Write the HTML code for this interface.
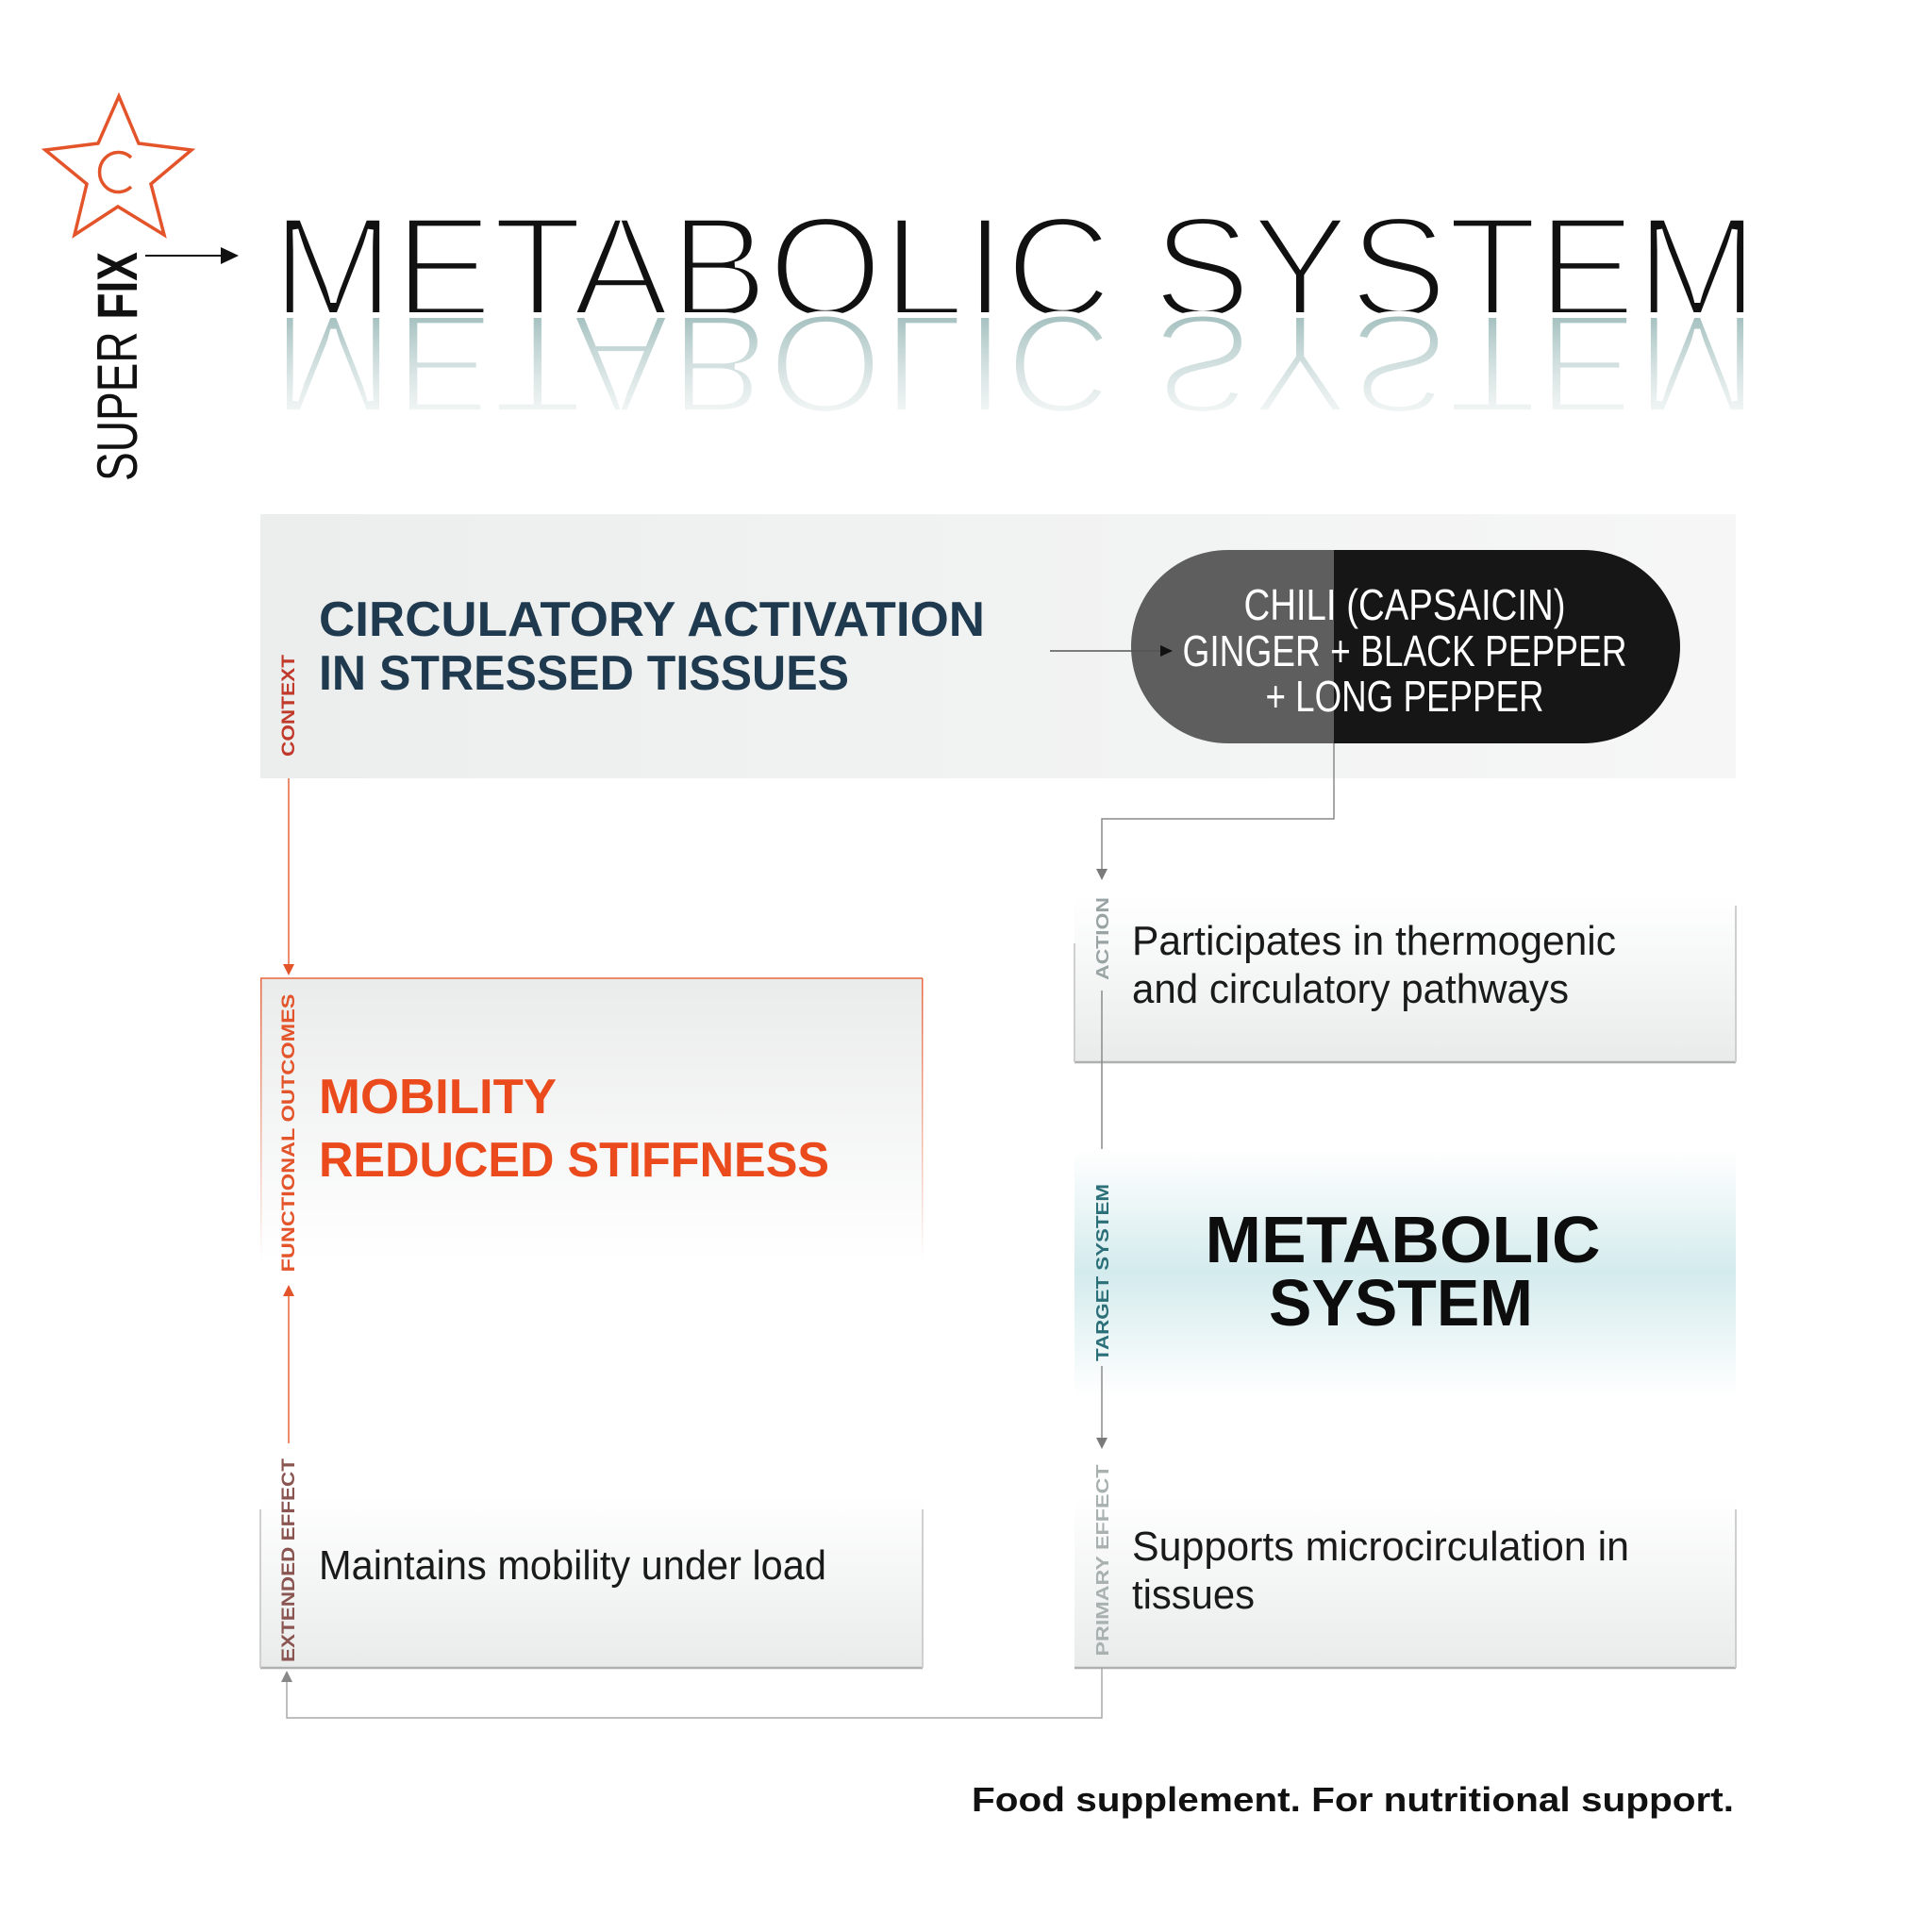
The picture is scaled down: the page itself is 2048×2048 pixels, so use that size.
<!DOCTYPE html>
<html><head><meta charset="utf-8"><style>html,body{margin:0;padding:0;background:#fff}svg{display:block}</style></head>
<body>
<svg width="2048" height="2048" viewBox="0 0 2048 2048" xmlns="http://www.w3.org/2000/svg" font-family="Liberation Sans, sans-serif">
<defs>
<linearGradient id="refl" gradientUnits="userSpaceOnUse" x1="0" y1="334" x2="0" y2="229">
<stop offset="0" stop-color="#9dbcbb" stop-opacity="0.95"/><stop offset="1" stop-color="#c9d9d8" stop-opacity="0.25"/></linearGradient>
<linearGradient id="ctx" x1="0" y1="0" x2="1" y2="0"><stop offset="0" stop-color="#eceeee"/><stop offset="1" stop-color="#f6f6f6"/></linearGradient>
<linearGradient id="vg" x1="0" y1="0" x2="0" y2="1"><stop offset="0" stop-color="#ffffff"/><stop offset="1" stop-color="#e9ebeb"/></linearGradient>
<linearGradient id="tg" x1="0" y1="0" x2="0" y2="1"><stop offset="0" stop-color="#ffffff"/><stop offset="0.5" stop-color="#d4ebed"/><stop offset="1" stop-color="#ffffff"/></linearGradient>
<linearGradient id="fg" x1="0" y1="0" x2="0" y2="1"><stop offset="0" stop-color="#eaebeb"/><stop offset="1" stop-color="#ffffff"/></linearGradient>
<linearGradient id="fb" x1="0" y1="0" x2="0" y2="1"><stop offset="0" stop-color="#e8663f"/><stop offset="1" stop-color="#e8663f" stop-opacity="0"/></linearGradient>
</defs>

<polygon points="126,102 147,152 203,159 160,195 174,249 125,219 79,249 92,195 48,159 104,152" fill="none" stroke="#e4542a" stroke-width="3.5"/>
<path d="M139,167 A20,21 0 1 0 139,198" fill="none" stroke="#e4542a" stroke-width="3.5"/>

<text transform="translate(145,510) rotate(-90)" font-size="60" fill="#111" textLength="243" lengthAdjust="spacingAndGlyphs"><tspan>SUPER </tspan><tspan font-weight="bold">FIX</tspan></text>
<line x1="154" y1="271" x2="238" y2="271" stroke="#111" stroke-width="2"/>
<polygon points="253,271 234,262 234,280" fill="#111"/>

<text x="288" y="336" font-size="153" fill="#111" stroke="#fff" stroke-width="6" textLength="1576" lengthAdjust="spacingAndGlyphs">METABOLIC SYSTEM</text>
<g transform="translate(0,668) scale(1,-1)">
<text x="288" y="334" font-size="150" fill="url(#refl)" stroke="#fff" stroke-width="6" textLength="1576" lengthAdjust="spacingAndGlyphs">METABOLIC SYSTEM</text>
</g>

<rect x="276" y="545" width="1564" height="280" fill="url(#ctx)"/>
<text x="338" y="674" font-size="52" font-weight="bold" fill="#1f3a4e" textLength="706" lengthAdjust="spacingAndGlyphs">CIRCULATORY ACTIVATION</text>
<text x="338" y="731" font-size="52" font-weight="bold" fill="#1f3a4e" textLength="562" lengthAdjust="spacingAndGlyphs">IN STRESSED TISSUES</text>
<text transform="translate(312,748) rotate(-90)" text-anchor="middle" font-size="19" font-weight="bold" fill="#c0392b" textLength="108" lengthAdjust="spacingAndGlyphs">CONTEXT</text>

<clipPath id="pc"><rect x="1199" y="583" width="582" height="205" rx="102.5"/></clipPath>
<g clip-path="url(#pc)">
<rect x="1199" y="583" width="215" height="205" fill="#5e5e5e"/>
<rect x="1414" y="583" width="370" height="205" fill="#161616"/>
</g>
<text x="1489" y="657" text-anchor="middle" font-size="46" fill="#fff" textLength="341" lengthAdjust="spacingAndGlyphs">CHILI (CAPSAICIN)</text>
<text x="1489" y="706" text-anchor="middle" font-size="46" fill="#fff" textLength="471" lengthAdjust="spacingAndGlyphs">GINGER + BLACK PEPPER</text>
<text x="1489" y="754" text-anchor="middle" font-size="46" fill="#fff" textLength="295" lengthAdjust="spacingAndGlyphs">+ LONG PEPPER</text>
<line x1="1113" y1="690" x2="1232" y2="690" stroke="#555" stroke-width="1.5"/>
<polygon points="1243,690 1230,684 1230,696" fill="#111"/>

<polyline points="1414,788 1414,868 1168,868 1168,922" fill="none" stroke="#8a8a8a" stroke-width="1.5"/>
<polygon points="1168,933 1162,921 1174,921" fill="#7a7a7a"/>

<rect x="1139" y="949" width="701" height="177" fill="url(#vg)"/>
<line x1="1139" y1="1126" x2="1840" y2="1126" stroke="#b0b0b0" stroke-width="2.5"/>
<line x1="1840" y1="960" x2="1840" y2="1126" stroke="#cfcfcf" stroke-width="2"/>
<line x1="1139" y1="1000" x2="1139" y2="1126" stroke="#cfcfcf" stroke-width="2"/>
<text transform="translate(1175,995) rotate(-90)" text-anchor="middle" font-size="18" font-weight="bold" fill="#9aa3a3" textLength="88" lengthAdjust="spacingAndGlyphs">ACTION</text>
<line x1="1168" y1="1050" x2="1168" y2="1222" stroke="#8a8a8a" stroke-width="1.5"/>
<polygon points="1168,1234 1162,1222 1174,1222" fill="#7a7a7a"/>
<text x="1200" y="1012" font-size="44" fill="#1a1a1a" textLength="513" lengthAdjust="spacingAndGlyphs">Participates in thermogenic</text>
<text x="1200" y="1063" font-size="44" fill="#1a1a1a" textLength="463" lengthAdjust="spacingAndGlyphs">and circulatory pathways</text>

<rect x="1139" y="1218" width="701" height="262" fill="url(#tg)"/>
<text transform="translate(1175,1349) rotate(-90)" text-anchor="middle" font-size="18" font-weight="bold" fill="#2b6f78" textLength="188" lengthAdjust="spacingAndGlyphs">TARGET SYSTEM</text>
<text x="1487" y="1338" text-anchor="middle" font-size="70" font-weight="bold" fill="#0d0d0d" textLength="419" lengthAdjust="spacingAndGlyphs">METABOLIC</text>
<text x="1485" y="1405" text-anchor="middle" font-size="70" font-weight="bold" fill="#0d0d0d" textLength="280" lengthAdjust="spacingAndGlyphs">SYSTEM</text>
<line x1="1168" y1="1448" x2="1168" y2="1524" stroke="#8a8a8a" stroke-width="1.5"/>
<polygon points="1168,1536 1162,1524 1174,1524" fill="#7a7a7a"/>

<rect x="1139" y="1585" width="701" height="183" fill="url(#vg)"/>
<line x1="1139" y1="1768" x2="1840" y2="1768" stroke="#b0b0b0" stroke-width="2.5"/>
<line x1="1840" y1="1600" x2="1840" y2="1768" stroke="#cfcfcf" stroke-width="2"/>
<text transform="translate(1175,1654) rotate(-90)" text-anchor="middle" font-size="18" font-weight="bold" fill="#a9b0b0" textLength="203" lengthAdjust="spacingAndGlyphs">PRIMARY EFFECT</text>
<text x="1200" y="1654" font-size="44" fill="#1a1a1a" textLength="527" lengthAdjust="spacingAndGlyphs">Supports microcirculation in</text>
<text x="1200" y="1705" font-size="44" fill="#1a1a1a" textLength="130" lengthAdjust="spacingAndGlyphs">tissues</text>

<polyline points="1168,1768 1168,1821 304,1821 304,1782" fill="none" stroke="#a8a8a8" stroke-width="1.5"/>
<polygon points="304,1771 298,1783 310,1783" fill="#888"/>

<line x1="306" y1="825" x2="306" y2="1022" stroke="#e8663f" stroke-width="1.5"/>
<polygon points="306,1034 300,1022 312,1022" fill="#e4542a"/>

<rect x="276" y="1037" width="702" height="300" fill="url(#fg)"/>
<line x1="276" y1="1037" x2="978" y2="1037" stroke="#e8663f" stroke-width="1.5"/>
<rect x="276" y="1037" width="1.5" height="300" fill="url(#fb)"/>
<rect x="977" y="1037" width="1.5" height="300" fill="url(#fb)"/>
<text transform="translate(312,1201) rotate(-90)" text-anchor="middle" font-size="19" font-weight="bold" fill="#e4542a" textLength="295" lengthAdjust="spacingAndGlyphs">FUNCTIONAL OUTCOMES</text>
<text x="338" y="1180" font-size="52" font-weight="bold" fill="#ea4a1c" textLength="252" lengthAdjust="spacingAndGlyphs">MOBILITY</text>
<text x="338" y="1247" font-size="52" font-weight="bold" fill="#ea4a1c" textLength="541" lengthAdjust="spacingAndGlyphs">REDUCED STIFFNESS</text>
<line x1="306" y1="1374" x2="306" y2="1530" stroke="#e8663f" stroke-width="1.5"/>
<polygon points="306,1362 300,1374 312,1374" fill="#e4542a"/>

<rect x="276" y="1585" width="702" height="183" fill="url(#vg)"/>
<line x1="276" y1="1768" x2="978" y2="1768" stroke="#b0b0b0" stroke-width="2.5"/>
<line x1="978" y1="1600" x2="978" y2="1768" stroke="#cfcfcf" stroke-width="2"/>
<line x1="276" y1="1600" x2="276" y2="1768" stroke="#cfcfcf" stroke-width="2"/>
<text transform="translate(312,1654) rotate(-90)" text-anchor="middle" font-size="19" font-weight="bold" fill="#8a5550" textLength="216" lengthAdjust="spacingAndGlyphs">EXTENDED EFFECT</text>
<text x="338" y="1674" font-size="44" fill="#1a1a1a" textLength="538" lengthAdjust="spacingAndGlyphs">Maintains mobility under load</text>

<text x="1030" y="1920" font-size="36" font-weight="bold" fill="#111" textLength="808" lengthAdjust="spacingAndGlyphs">Food supplement. For nutritional support.</text>
</svg>
</body></html>
